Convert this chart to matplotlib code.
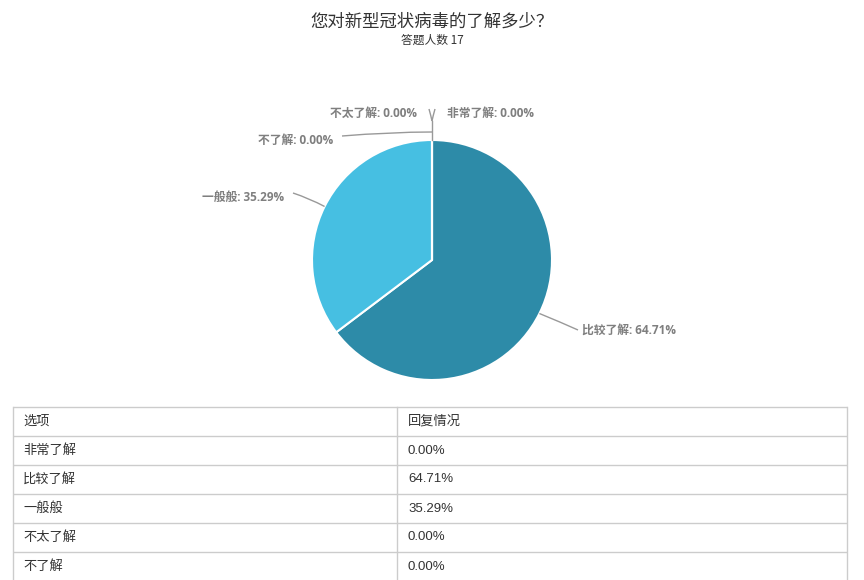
import numpy as np
import matplotlib
matplotlib.use("Agg")
import matplotlib.pyplot as plt
from matplotlib.path import Path
import matplotlib.patches as mpatches

plt.rcParams['font.family'] = ['Noto Sans CJK SC', 'DejaVu Sans']

# Data
options = ["非常了解", "比较了解", "一般般", "不太了解", "不了解"]
percents = [0.00, 64.71, 35.29, 0.00, 0.00]
colors = ["#7cc4dc", "#2d8ba8", "#46bfe2", "#5aa0c0", "#3a9ac0"]
title = "您对新型冠状病毒的了解多少？"
subtitle = "答题人数 17"
header = ["选项", "回复情况"]

W, H = 864, 580
fig = plt.figure(figsize=(W / 100, H / 100), dpi=100)
ax = fig.add_axes([0, 0, 1, 1])


def py(y):  # pixel y (from top) -> data y
    return H - y


# Pie, clockwise from 12 o'clock
cx, cy, r = 432, 260, 120
wedges, _ = ax.pie(percents, colors=colors, startangle=90, counterclock=False,
                   center=(cx, py(cy)), radius=r, frame=True,
                   wedgeprops=dict(edgecolor="white", linewidth=1.5))
ax.set_xlim(0, W)
ax.set_ylim(0, H)
ax.set_aspect("auto")
ax.axis("off")

lab_color = "#7f7f7f"
line_color = "#999999"
lab_font = ['Open Sans', 'Noto Sans CJK SC']
tab_font = ['Liberation Sans', 'Noto Sans CJK SC']


def curve(p0, p1, p2):
    verts = [(p0[0], py(p0[1])), (p1[0], py(p1[1])), (p2[0], py(p2[1]))]
    path = Path(verts, [Path.MOVETO, Path.CURVE3, Path.CURVE3])
    ax.add_patch(mpatches.PathPatch(path, fc="none", ec=line_color, lw=1))


def edge_point(theta_deg, rr=r):
    t = np.deg2rad(theta_deg)
    return cx + rr * np.cos(t), cy - rr * np.sin(t)


def label(x, y, i, ha):
    ax.text(x, py(y), f"{options[i]}: {percents[i]:.2f}%", ha=ha, va="center",
            fontsize=8.5, fontweight="bold", color=lab_color, family=lab_font)


# leader lines and labels
cum = np.cumsum([0] + percents)
mids = [90 - (cum[i] + percents[i] / 2) * 3.6 for i in range(len(percents))]

# 比较了解
p0 = edge_point(mids[1])
curve(p0, (p0[0] + 22, p0[1] + 9), (578, 330))
label(582, 330, 1, "left")

# 一般般
p0 = edge_point(mids[2])
curve(p0, (p0[0] - 15, p0[1] - 8), (293, 193))
label(284, 197, 2, "right")

# zero slices at the top
ax.plot([cx, cx], [py(140), py(121)], color=line_color, lw=1)
curve((cx, 121), (cx - 1, 116), (cx - 3, 109))
curve((cx, 121), (cx + 1, 116), (cx + 3, 109))
curve((cx, 132), (390, 132), (342, 136))
label(447, 113, 0, "left")
label(417, 113, 3, "right")
label(333, 140, 4, "right")

# Title
ax.text(W / 2, py(22), title, ha="center", va="center", fontsize=12.5, color="#333333")
ax.text(W / 2, py(40), subtitle, ha="center", va="center", fontsize=8.5, color="#333333")

# Table
x0, x1, xm = 13, 847, 397
top, rh = 407, 29
grid = "#cccccc"
rows = [header] + [[o, f"{p:.2f}%"] for o, p in zip(options, percents)]
for i in range(len(rows) + 1):
    y = top + i * rh
    ax.plot([x0, x1], [py(y), py(y)], color=grid, lw=1, solid_capstyle="butt")
for x in (x0, xm, x1):
    ax.plot([x, x], [py(top), py(top + len(rows) * rh)], color=grid, lw=1)
for i, row in enumerate(rows):
    yc = top + i * rh + rh / 2
    ax.text(23, py(yc), row[0], ha="left", va="center", fontsize=9.5, color="#333333",
            family=tab_font)
    ax.text(408, py(yc), row[1], ha="left", va="center", fontsize=9.5, color="#333333",
            family=tab_font)

plt.savefig("out.png", dpi=100)
